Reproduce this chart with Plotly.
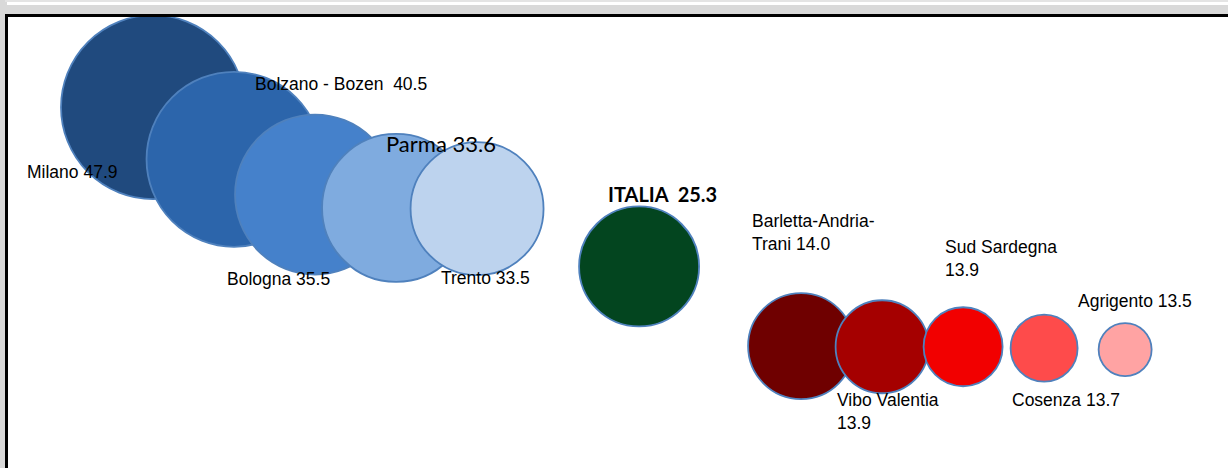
import plotly.graph_objects as go

# Dati: province (ordine del grafico), valore, dimensione bolla
province = ["Milano", "Bolzano - Bozen", "Bologna", "Parma", "Trento", "ITALIA",
            "Barletta-Andria-Trani", "Vibo Valentia", "Sud Sardegna", "Cosenza", "Agrigento"]
valori = [47.9, 40.5, 35.5, 33.6, 33.5, 25.3, 14.0, 13.9, 13.9, 13.7, 13.5]
posizione = [1, 2, 3, 4, 5, 7, 9, 10, 11, 12, 13]
dimensione = [18.4, 17.5, 16.0, 14.8, 13.3, 12.0, 10.6, 9.3, 7.9, 6.7, 5.3]
etichette = ["Milano 47.9", "Bolzano - Bozen  40.5", "Bologna 35.5", "Parma 33.6",
             "Trento 33.5", "<b>ITALIA  25.3</b>", "Barletta-Andria-<br>Trani 14.0",
             "Vibo Valentia<br>13.9", "Sud Sardegna<br>13.9", "Cosenza 13.7", "Agrigento 13.5"]

colori = ["#204A7E", "#2C65AB", "#4581CB", "#7FABDF", "#BDD3EE", "#03451F",
          "#6F0000", "#A50000", "#F20000", "#FE4B4B", "#FFA3A3"]

# spostamento etichette rispetto al centro della bolla (pixel)
offset = [(-34, -65, "right"), (19, 75, "left"), (-90, -84, "left"), (-12, 64, "left"),
          (-38, -69, "left"), (-33, 72, "left"), (-51, 114, "left"), (-47, -65, "left"),
          (-20, 88, "left"), (-34, -52, "left"), (-49, 49, "left")]

W, H = 1228, 468

fig = go.Figure()
fig.add_trace(go.Scatter(
    x=posizione, y=valori, mode="markers",
    marker=dict(size=dimensione, sizemode="diameter", sizeref=0.1, color=colori,
                opacity=1, line=dict(color="#4F81BD", width=1.8)),
    hoverinfo="skip", showlegend=False, cliponaxis=False
))

arial = "Liberation Sans, Arial"
for i, testo in enumerate(etichette):
    dx, dy, anc = offset[i]
    if province[i] == "Parma":
        fnt = dict(family="Lato, Open Sans", size=22, color="black")
    elif province[i] == "ITALIA":
        fnt = dict(family="Lato, Open Sans", size=20, color="black")
    else:
        fnt = dict(family=arial, size=17.5, color="black")
    fig.add_annotation(x=posizione[i], y=valori[i], xref="x", yref="y", text=testo,
                       showarrow=False, xanchor=anc, yanchor="middle", align="left",
                       xshift=dx, yshift=dy, font=fnt)

# cornice stile Excel
def px(x0, y0, x1, y1, col):
    fig.add_shape(type="rect", xref="paper", yref="paper", layer="above",
                  x0=x0 / W, x1=x1 / W, y0=1 - y1 / H, y1=1 - y0 / H,
                  line=dict(width=0), fillcolor=col)

px(0, 0, W, 14, "#D9D9D9")
px(0, 0, W, 2, "#E4E4E4")
px(7, 2, W, 5, "#FFFFFF")
px(0, 0, 5, H, "#D9D9D9")
px(5, 14, W, 17, "#000000")
px(5, 14, 8, H, "#000000")

fig.update_xaxes(visible=False, range=[-0.889, 14.27])
fig.update_yaxes(visible=False, range=[-3.3, 63.1])
fig.update_layout(width=W, height=H, margin=dict(l=0, r=0, t=0, b=0, pad=0),
                  paper_bgcolor="white", plot_bgcolor="white")

fig.write_html("out.html", config={"displayModeBar": False},
               post_script="document.body.style.margin='0';document.body.style.overflow='hidden';")
